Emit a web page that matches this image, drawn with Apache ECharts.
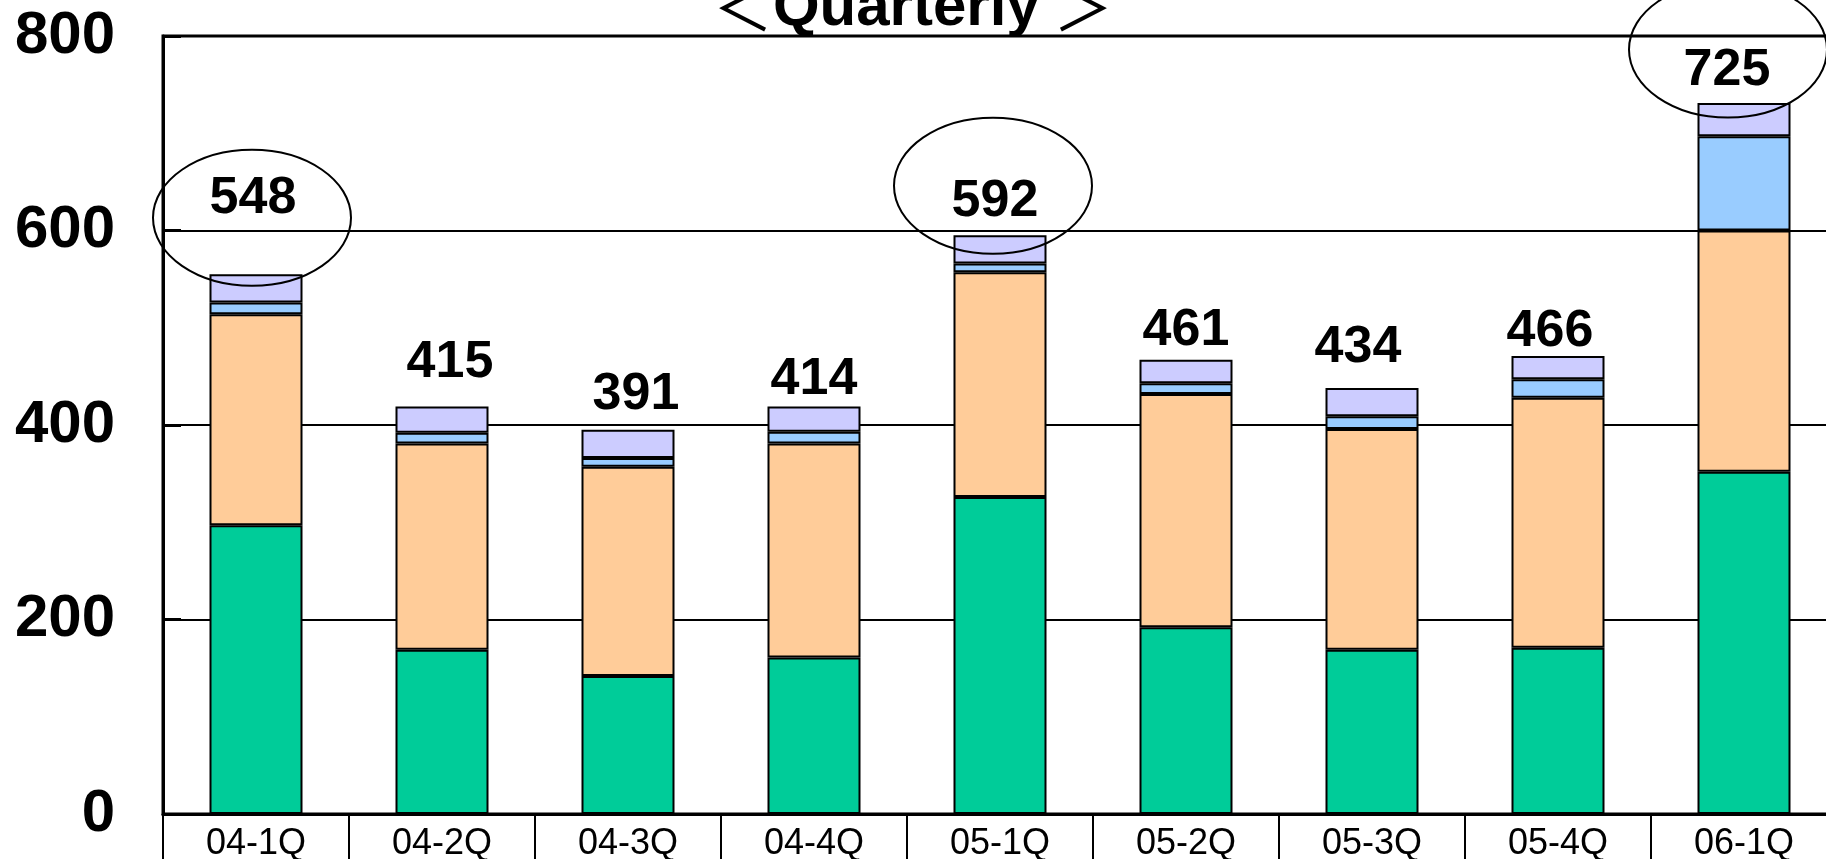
<!DOCTYPE html>
<html>
<head>
<meta charset="utf-8">
<title>Quarterly</title>
<script src="https://cdn.jsdelivr.net/npm/echarts@6/dist/echarts.min.js"></script>
<style>
  html, body { margin: 0; padding: 0; background: #fff; }
  #chart { width: 1826px; height: 859px; }
</style>
</head>
<body>
<div id="chart"></div>
<script>
// quarters on the x axis
const quarters = ['04-1Q', '04-2Q', '04-3Q', '04-4Q', '05-1Q', '05-2Q', '05-3Q', '05-4Q', '06-1Q']
// stacked parts, bottom to top
const greenPart = [297, 169, 142, 161, 326, 192, 169, 171, 352]
const orangePart = [217, 212, 215, 220, 231, 240, 227, 257, 248]
const bluePart = [12, 11, 9, 12, 9, 11, 13, 19, 97]
const purplePart = [29, 27, 29, 26, 29, 24, 29, 24, 34]
// totals printed above the bars
const totals = [548, 415, 391, 414, 592, 461, 434, 466, 725]
// circled quarters: [quarter index, value at ellipse centre]
const circled = [[0, 613], [4, 646], [8, 786]]
const yTicks = [0, 200, 400, 600, 800]

// label nudges in px, one per bar [dx, dy]
const labelNudge = [[-3, -42], [8, -10], [8, -1], [0, 7], [-5, 0], [0, 5], [-14, -6], [-8, 10], [-17, 2]]
// ellipse nudges in px along x
const ellipseDx = [-4, -7, -16]

const font = 'Liberation Sans, Arial, sans-serif'
const chart = echarts.init(document.getElementById('chart'))

function part(name, color, values) {
  return {
    name: name,
    type: 'bar',
    stack: 'q',
    barWidth: '50%',
    data: values,
    itemStyle: { color: color, borderColor: '#000', borderWidth: 2 },
    animation: false
  }
}

const topPart = part('p4', '#CCCCFF', purplePart.map((v, i) => ({
  value: v,
  label: { offset: labelNudge[i] }
})))
topPart.label = {
  show: true,
  position: 'top',
  distance: 8,
  formatter: p => totals[p.dataIndex],
  color: '#000',
  fontFamily: font,
  fontWeight: 'bold',
  fontSize: 52
}

chart.setOption({
  animation: false,
  title: {
    text: '{b|＜}Quarterly{b| ＞}',
    left: 'center',
    top: -27,
    textStyle: {
      fontFamily: font,
      fontWeight: 'bold',
      fontSize: 60,
      color: '#000',
      rich: {
        b: { fontFamily: 'Noto Sans CJK JP', fontWeight: 'normal', fontSize: 60, color: '#000' }
      }
    }
  },
  // plot runs past the right edge of the picture
  grid: {
    left: 163,
    top: 36,
    width: 1674,
    height: 778,
    outerBoundsMode: 'none',
    containLabel: false,
    show: true,
    borderColor: '#000',
    borderWidth: 3
  },
  xAxis: {
    type: 'category',
    data: quarters,
    boundaryGap: true,
    axisLine: { lineStyle: { color: '#000', width: 3 } },
    axisTick: { show: true, interval: 0, length: 60, lineStyle: { color: '#000', width: 2 } },
    axisLabel: {
      interval: 0,
      margin: 12,
      color: '#000',
      fontFamily: font,
      fontSize: 36
    }
  },
  yAxis: {
    type: 'value',
    min: yTicks[0],
    max: yTicks[yTicks.length - 1],
    interval: 200,
    axisLine: { show: true, lineStyle: { color: '#000', width: 3 } },
    axisTick: { show: true, inside: true, length: 18, lineStyle: { color: '#000', width: 3 } },
    splitLine: { lineStyle: { color: '#000', width: 2 } },
    axisLabel: {
      margin: 48,
      color: '#000',
      fontFamily: font,
      fontWeight: 'bold',
      fontSize: 60
    }
  },
  series: [
    part('p1', '#00CC99', greenPart),
    part('p2', '#FFCC99', orangePart),
    part('p3', '#99CCFF', bluePart),
    topPart,
    {
      // rings round the highlighted totals
      type: 'custom',
      data: circled,
      z: 10,
      renderItem: (params, api) => {
        const c = api.coord([api.value(0), api.value(1)])
        return {
          type: 'ellipse',
          shape: { cx: c[0] + ellipseDx[params.dataIndex], cy: c[1], rx: 99, ry: 68 },
          style: { fill: 'none', stroke: '#000', lineWidth: 2 }
        }
      },
      animation: false
    }
  ]
})
</script>
</body>
</html>
